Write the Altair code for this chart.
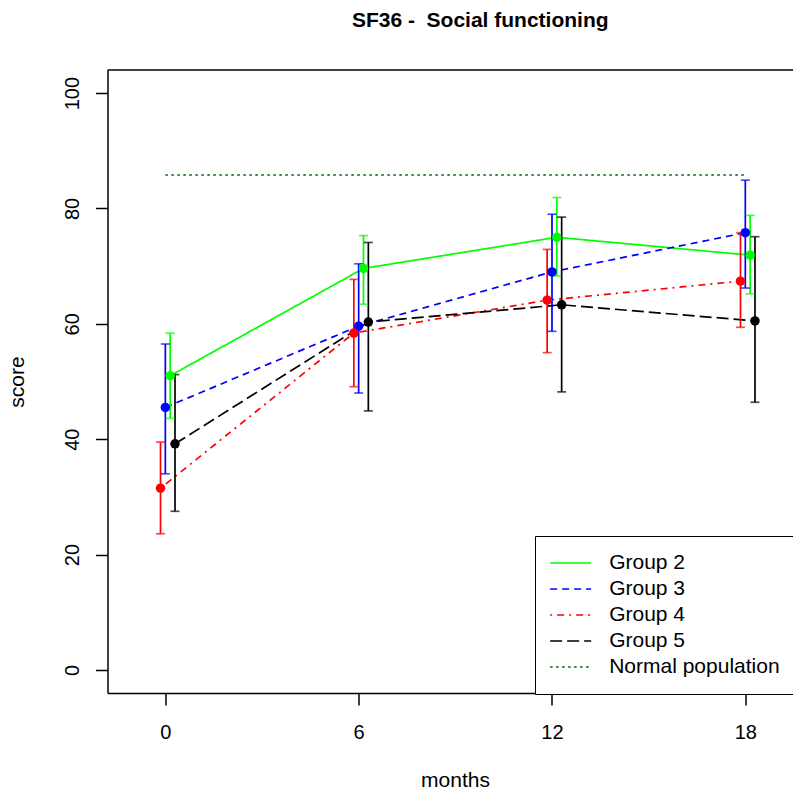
import altair as alt
import pandas as pd

# ---- data ----
months = [0, 6, 12, 18]
groups = ["Group 2", "Group 3", "Group 4", "Group 5"]
g2_mean = [51.0, 69.6, 75.0, 71.9]
g2_lo = [43.6, 63.4, 68.3, 65.2]
g2_hi = [58.4, 75.3, 81.9, 78.8]
g3_mean = [45.5, 59.6, 69.0, 75.8]
g3_lo = [34.0, 48.0, 58.7, 66.2]
g3_hi = [56.5, 70.4, 79.0, 84.9]
g4_mean = [31.5, 58.4, 64.1, 67.4]
g4_lo = [23.6, 49.1, 55.0, 59.4]
g4_hi = [39.5, 67.7, 72.9, 75.8]
g5_mean = [39.2, 60.3, 63.3, 60.5]
g5_lo = [27.5, 44.9, 48.2, 46.4]
g5_hi = [51.2, 74.1, 78.5, 75.1]
normal_label = "Normal population"
normal_months = [0, 18]
normal_value = 85.8
# horizontal dodge (months) applied to each group so bars do not overlap
dodge = [0.15, 0.0, -0.15, 0.3]

legend_labels = groups + [normal_label]
colors = ["#00FF00", "#0000FF", "#FF0000", "#000000", "#006400"]
dashes = [[1, 0], [7, 5], [2, 5, 7, 5], [12, 5], [2.5, 3.5]]

means = [g2_mean, g3_mean, g4_mean, g5_mean]
los = [g2_lo, g3_lo, g4_lo, g5_lo]
his = [g2_hi, g3_hi, g4_hi, g5_hi]

rows = []
for gi, g in enumerate(groups):
    for mi, m in enumerate(months):
        rows.append({"group": g, "x": m + dodge[gi], "score": means[gi][mi],
                     "lo": los[gi][mi], "hi": his[gi][mi], "order": gi})
df = pd.DataFrame(rows)
normal_df = pd.DataFrame({"group": [normal_label] * len(normal_months),
                          "x": normal_months,
                          "score": [normal_value] * len(normal_months),
                          "order": [4] * len(normal_months)})
line_df = pd.concat([df[["group", "x", "score", "order"]], normal_df], ignore_index=True)
top_df = pd.DataFrame({"score": [104]})

FONT = "Liberation Sans"
xscale = alt.Scale(domain=[-1.795, 19.48], nice=False, zero=False)
yscale = alt.Scale(domain=[-4, 104], nice=False, zero=False)
xaxis = alt.Axis(values=months, title="months", labelPadding=17, titleX=347.5,
                 titleY=93, titleBaseline="alphabetic", titleAlign="center")
yaxis = alt.Axis(values=[0, 20, 40, 60, 80, 100], title="score", labelAngle=270,
                 labelAlign="center", labelBaseline="alphabetic", labelPadding=17,
                 titleAngle=270, titleX=-84, titleY=311.5,
                 titleBaseline="alphabetic", titleAlign="center")

def X(field="x"):
    return alt.X(f"{field}:Q", scale=xscale, axis=xaxis, title="months")

def Y(field="score"):
    return alt.Y(f"{field}:Q", scale=yscale, axis=yaxis, title="score")

color_scale = alt.Scale(domain=legend_labels, range=colors)
dash_scale = alt.Scale(domain=legend_labels, range=dashes)

legend = alt.Legend(title=None, orient="none", legendX=427.5, legendY=466,
                    symbolType="stroke", symbolSize=1681, symbolStrokeWidth=1.7,
                    symbolOffset=0, clipHeight=25.7,
                    labelOffset=17, labelFont=FONT, labelFontSize=21, labelLimit=400,
                    labelColor="black", padding=14.15, rowPadding=0,
                    strokeColor="black", fillColor="white", symbolOpacity=1)

lines = alt.Chart(line_df).mark_line(strokeWidth=1.7).encode(
    x=X(), y=Y(),
    color=alt.Color("group:N", scale=color_scale, legend=legend, sort=legend_labels),
    strokeDash=alt.StrokeDash("group:N", scale=dash_scale, legend=legend, sort=legend_labels),
    detail="group:N",
)

bars = alt.Chart(df).mark_rule(strokeWidth=1.7).encode(
    x=X(), y=Y("lo"), y2="hi:Q",
    color=alt.Color("group:N", scale=color_scale, legend=None),
)
cap_lo = alt.Chart(df).mark_tick(orient="horizontal", size=9, thickness=1.7).encode(
    x=X(), y=Y("lo"),
    color=alt.Color("group:N", scale=color_scale, legend=None),
)
cap_hi = alt.Chart(df).mark_tick(orient="horizontal", size=9, thickness=1.7).encode(
    x=X(), y=Y("hi"),
    color=alt.Color("group:N", scale=color_scale, legend=None),
)
points = alt.Chart(df).mark_circle(size=90, opacity=1).encode(
    x=X(), y=Y(),
    color=alt.Color("group:N", scale=color_scale, legend=None),
)
top_border = alt.Chart(top_df).mark_rule(color="black", strokeWidth=1.5).encode(
    y=Y("score"),
)

chart = alt.layer(lines, bars, cap_lo, cap_hi, points, top_border).resolve_legend(
    color="independent", strokeDash="independent"
).properties(
    width=685.5, height=623,
    padding={"left": 107.5, "top": 70, "right": 0, "bottom": 101},
    autosize=alt.AutoSizeParams(type="none"),
    title=alt.TitleParams("SF36 -\u00a0 Social functioning", font=FONT, fontSize=21,
                          fontWeight="bold", anchor="middle", dx=30, offset=38,
                          color="black"),
    background="white",
).configure_view(stroke=None).configure_axis(
    labelFont=FONT, labelFontSize=20, titleFont=FONT, titleFontSize=21,
    titleFontWeight="normal", labelColor="black", titleColor="black",
    domainColor="black", tickColor="black", domainWidth=1.5, tickWidth=1.5,
    tickSize=12, grid=False,
)

chart.save("out.html", embed_options={"renderer": "svg", "actions": False})
